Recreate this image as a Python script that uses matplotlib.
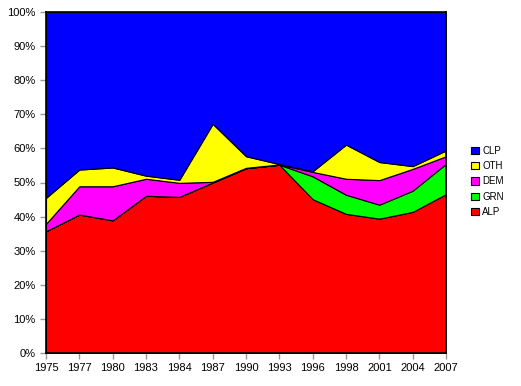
import numpy as np
import matplotlib.pyplot as plt
from matplotlib.patches import Patch

plt.rcParams['font.family'] = ['Liberation Sans', 'DejaVu Sans']

years = ["1975", "1977", "1980", "1983", "1984", "1987", "1990",
         "1993", "1996", "1998", "2001", "2004", "2007"]

# vote shares (%), bottom to top
alp = [35.7, 40.6, 38.9, 46.1, 45.8, 50.0, 54.2, 55.2, 45.1, 40.8, 39.4, 41.4, 46.6]
grn = [0.0, 0.0, 0.0, 0.0, 0.0, 0.0, 0.0, 0.0, 6.7, 5.6, 4.1, 6.2, 8.9]
dem = [2.2, 8.3, 10.0, 5.0, 4.1, 0.2, 0.1, 0.1, 1.3, 4.7, 7.2, 6.4, 2.2]
oth = [7.6, 4.9, 5.5, 0.9, 0.9, 17.0, 3.4, 0.1, 0.2, 10.0, 5.3, 0.8, 1.7]
clp = [54.5, 46.2, 45.6, 48.0, 49.2, 32.8, 42.3, 44.6, 46.7, 38.9, 44.0, 45.2, 40.6]

labels = ["ALP", "GRN", "DEM", "OTH", "CLP"]
colors = ["#FF0000", "#00FF00", "#FF00FF", "#FFFF00", "#0000FF"]

series = np.array([alp, grn, dem, oth, clp], dtype=float)
series = series / series.sum(axis=0) * 100.0
x = np.arange(len(years))

fig = plt.figure(figsize=(5.21, 3.86), dpi=100)
ax = fig.add_axes([46 / 521, 33 / 386, 400 / 521, 341 / 386])

ax.stackplot(x, series, colors=colors, edgecolor="black", linewidth=0.8)

ax.set_xlim(x[0], x[-1])
ax.set_ylim(0, 100)
ax.set_xticks(x)
ax.set_xticklabels(years)
ax.set_yticks(np.arange(0, 101, 10))
ax.set_yticklabels([f"{v}%" for v in range(0, 101, 10)])
ax.tick_params(axis="both", labelsize=8, direction="out", length=4,
               color="#999999", width=1)
for s in ax.spines.values():
    s.set_linewidth(1.2)
    s.set_color("black")

handles = [Patch(facecolor=c, edgecolor="black", linewidth=0.8, label=l)
           for l, c in zip(labels, colors)][::-1]
fig.legend(handles=handles, loc="center left", bbox_to_anchor=(462 / 521, 0.53),
           frameon=False, fontsize=7, handlelength=0.8, handleheight=0.8,
           handletextpad=0.4, labelspacing=0.55)

fig.savefig("out.png", dpi=100)
